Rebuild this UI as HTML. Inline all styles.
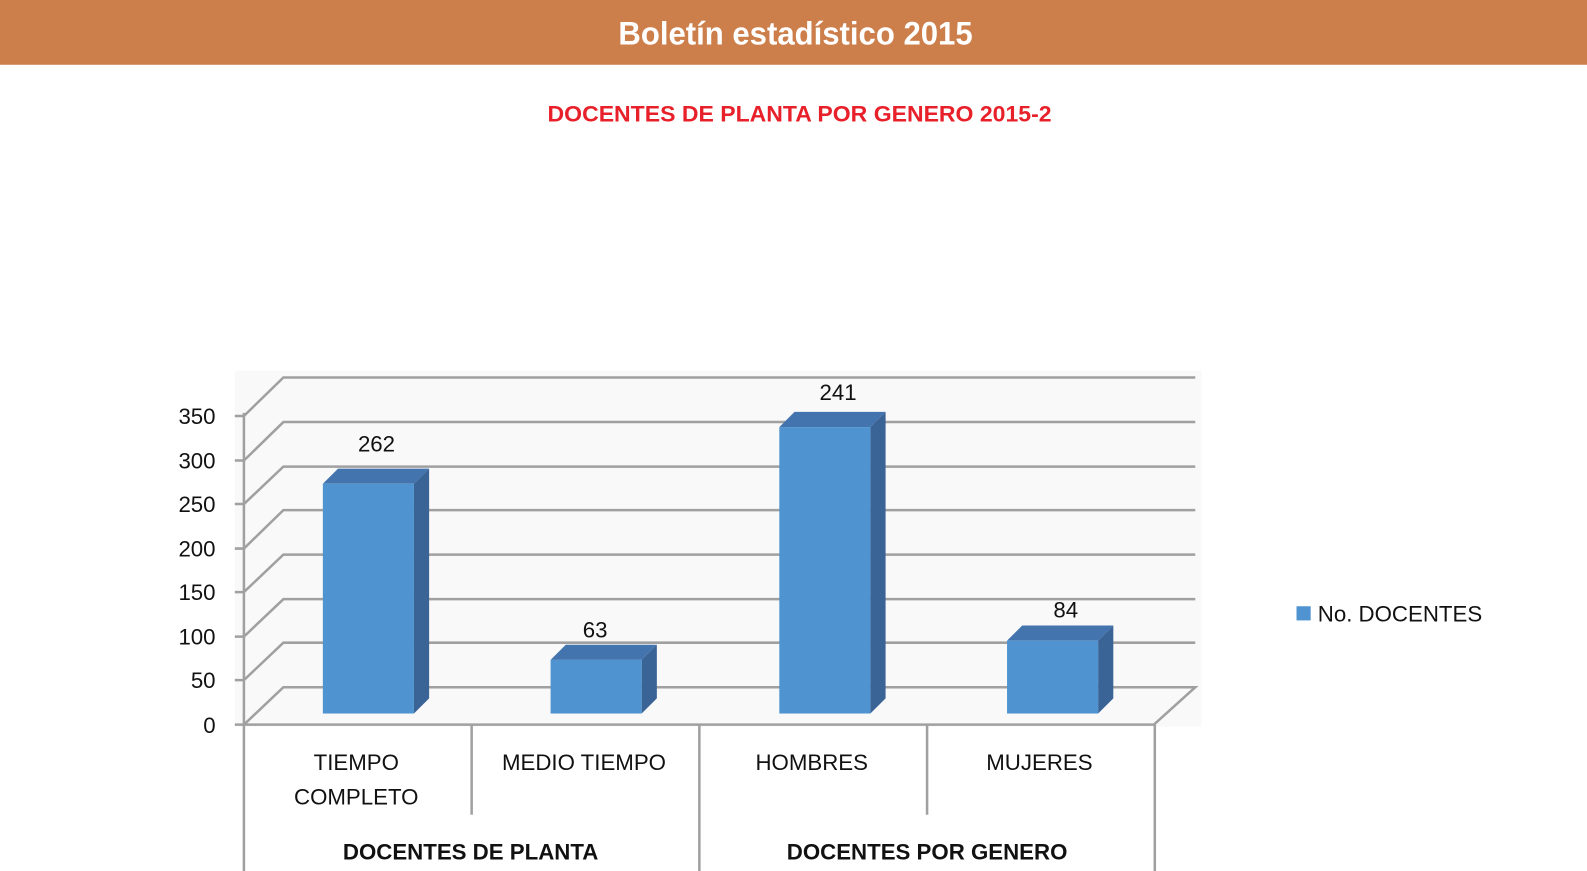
<!DOCTYPE html>
<html><head><meta charset="utf-8"><style>
html,body{margin:0;padding:0;background:#fff;width:1587px;height:871px;overflow:hidden}
svg{display:block}
</style></head><body>
<svg width="1587" height="871" xmlns="http://www.w3.org/2000/svg" font-family="Liberation Sans, sans-serif">
<g transform="scale(1.0121)">
<rect x="0" y="0" width="1570" height="64" fill="#CD7F4B"/>
<text x="786" y="44" fill="#fff" font-size="32" font-weight="bold" text-anchor="middle" textLength="350" lengthAdjust="spacingAndGlyphs">Boletín estadístico 2015</text>
<text x="790" y="120" fill="#E8202A" font-size="22" font-weight="bold" text-anchor="middle" textLength="498" lengthAdjust="spacingAndGlyphs">DOCENTES DE PLANTA POR GENERO 2015-2</text>
<rect x="232" y="366" width="955" height="352" fill="#f9f9f9"/>
<g stroke="#a0a0a0" stroke-width="2.5" fill="none">
<path d="M241 411L280 373H1181"/>
<path d="M241 455L280 417H1181"/>
<path d="M241 498L280 461H1181"/>
<path d="M241 542L280 504H1181"/>
<path d="M241 585L280 548H1181"/>
<path d="M241 629L280 592H1181"/>
<path d="M241 672L280 635H1181"/>
<path d="M241 716L280 679H1181L1140 716"/>
<path d="M241 408V871"/>
<path d="M232 411H241M232 455H241M232 498H241M232 542H241M232 585H241M232 629H241M232 672H241M232 716H1140"/>
<path d="M466 716V805M691 716V871M916 716V805M1141 716V871"/>
</g>
<g font-size="22" fill="#111" text-anchor="end">
<text x="213" y="419">350</text><text x="213" y="463">300</text><text x="213" y="506">250</text>
<text x="213" y="550">200</text><text x="213" y="593">150</text><text x="213" y="637">100</text>
<text x="213" y="680">50</text><text x="213" y="724">0</text>
</g>
<g>
<polygon points="319,478 334,463 424,463 409,478" fill="#4374AE"/><polygon points="409,478 424,463 424,690 409,705" fill="#3A6396"/><rect x="319" y="478" width="90" height="227" fill="#4F94D0"/>
<polygon points="544,652 559,637 649,637 634,652" fill="#4374AE"/><polygon points="634,652 649,637 649,690 634,705" fill="#3A6396"/><rect x="544" y="652" width="90" height="53" fill="#4F94D0"/>
<polygon points="770,422 785,407 875,407 860,422" fill="#4374AE"/><polygon points="860,422 875,407 875,690 860,705" fill="#3A6396"/><rect x="770" y="422" width="90" height="283" fill="#4F94D0"/>
<polygon points="995,633 1010,618 1100,618 1085,633" fill="#4374AE"/><polygon points="1085,633 1100,618 1100,690 1085,705" fill="#3A6396"/><rect x="995" y="633" width="90" height="72" fill="#4F94D0"/>
</g>
<g font-size="22" fill="#111" text-anchor="middle">
<text x="372" y="446">262</text><text x="588" y="630">63</text><text x="828" y="395">241</text><text x="1053" y="610">84</text>
<text x="352" y="761">TIEMPO</text><text x="352" y="795">COMPLETO</text>
<text x="577" y="761">MEDIO TIEMPO</text><text x="802" y="761">HOMBRES</text><text x="1027" y="761">MUJERES</text>
<text x="465" y="849" font-weight="bold">DOCENTES DE PLANTA</text>
<text x="916" y="849" font-weight="bold">DOCENTES POR GENERO</text>
</g>
<rect x="1281" y="599" width="14" height="14" fill="#4F94D0"/>
<text x="1302" y="614" font-size="22" fill="#111">No. DOCENTES</text>
</g>
</svg>
</body></html>
